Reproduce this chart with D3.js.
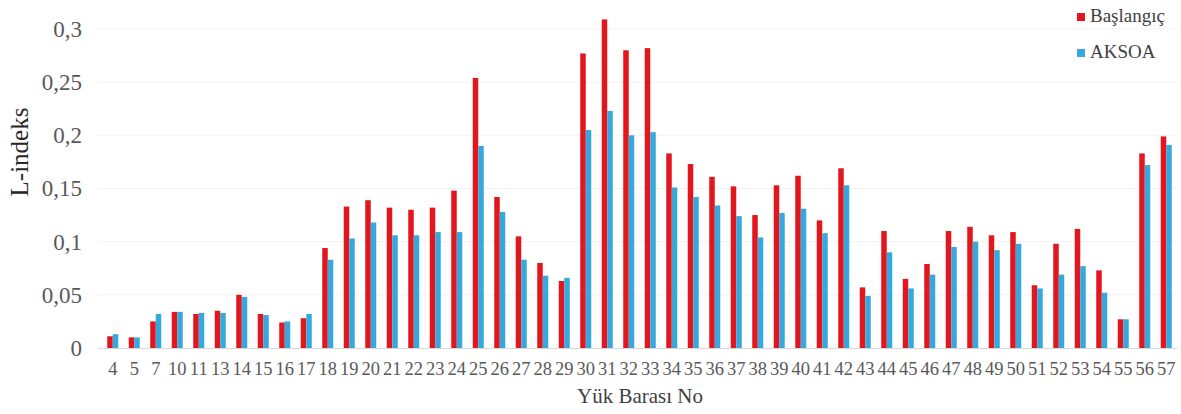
<!DOCTYPE html>
<html>
<head>
<meta charset="utf-8">
<script src="https://cdn.jsdelivr.net/npm/d3@7/dist/d3.min.js"></script>
<style>
  body { margin: 0; background: #fff; }
  svg text { font-family: 'Liberation Serif', 'DejaVu Serif', 'Times New Roman', Times, serif !important; }
</style>
</head>
<body>
<svg id="chart" width="1181" height="414"></svg>
<script>
// load bus numbers and L-index values
const buses = [4, 5, 7, 10, 11, 13, 14, 15, 16, 17, 18, 19, 20, 21, 22, 23, 24, 25, 26, 27,
    28, 29, 30, 31, 32, 33, 34, 35, 36, 37, 38, 39, 40, 41, 42, 43, 44, 45, 46, 47,
    48, 49, 50, 51, 52, 53, 54, 55, 56, 57];
const baslangic = [0.011, 0.010, 0.025, 0.034, 0.032, 0.035, 0.050, 0.032, 0.024, 0.028,
    0.094, 0.133, 0.139, 0.132, 0.130, 0.132, 0.148, 0.254, 0.142, 0.105,
    0.080, 0.063, 0.277, 0.309, 0.280, 0.282, 0.183, 0.173, 0.161, 0.152,
    0.125, 0.153, 0.162, 0.120, 0.169, 0.057, 0.110, 0.065, 0.079, 0.110,
    0.114, 0.106, 0.109, 0.059, 0.098, 0.112, 0.073, 0.027, 0.183, 0.199];
const aksoa = [0.013, 0.010, 0.032, 0.034, 0.033, 0.033, 0.048, 0.031, 0.025, 0.032,
    0.083, 0.103, 0.118, 0.106, 0.106, 0.109, 0.109, 0.190, 0.128, 0.083,
    0.068, 0.066, 0.205, 0.223, 0.200, 0.203, 0.151, 0.142, 0.134, 0.124,
    0.104, 0.127, 0.131, 0.108, 0.153, 0.049, 0.090, 0.056, 0.069, 0.095,
    0.100, 0.092, 0.098, 0.056, 0.069, 0.077, 0.052, 0.027, 0.172, 0.191];
const yTicks = [0, 0.05, 0.1, 0.15, 0.2, 0.25, 0.3];
const yTickLabels = ['0', '0,05', '0,1', '0,15', '0,2', '0,25', '0,3'];
const seriesNames = ['Başlangıç', 'AKSOA'];
const seriesColors = ['#e3151d', '#37a8dc'];

const svg = d3.select('#chart');
const margin = { left: 102, right: 4, top: 29, bottom: 66 };
const width = 1181, height = 414;

const x = d3.scaleBand()
    .domain(buses)
    .range([margin.left, width - margin.right])
    .paddingInner(0)
    .paddingOuter(0);

const y = d3.scaleLinear()
    .domain([0, 0.3])
    .range([348, 29]);

// gridlines
svg.append('g')
    .selectAll('line')
    .data(yTicks.slice(1))
    .join('line')
    .attr('x1', 98).attr('x2', 1177)
    .attr('y1', d => y(d)).attr('y2', d => y(d))
    .attr('stroke', '#f2f2f2')
    .attr('stroke-width', 1);

// y axis labels
const yAxis = d3.axisLeft(y)
    .tickValues(yTicks)
    .tickSize(0)
    .tickPadding(0)
    .tickFormat((d, i) => yTickLabels[i]);
const yg = svg.append('g')
    .attr('transform', 'translate(82,0)')
    .call(yAxis)
    .attr('font-family', null);
yg.select('.domain').remove();
yg.selectAll('text')
    .attr('font-size', 23)
    .attr('fill', '#595959');

// bars
const bw = 5.5;
const grp = svg.append('g');
[baslangic, aksoa].forEach(function (vals, si) {
    grp.selectAll('.bar' + si)
        .data(vals)
        .join('rect')
        .attr('class', 'bar' + si)
        .attr('x', (d, i) => x(buses[i]) + x.bandwidth() / 2 - bw + si * bw)
        .attr('y', d => y(d))
        .attr('width', bw)
        .attr('height', d => y(0) - y(d))
        .attr('fill', seriesColors[si]);
});

// zero line
svg.append('line')
    .attr('x1', 98).attr('x2', 1177)
    .attr('y1', y(0) + 0.5).attr('y2', y(0) + 0.5)
    .attr('stroke', '#d9d9d9')
    .attr('stroke-width', 1);

// x axis labels
const xAxis = d3.axisBottom(x).tickSize(0).tickPadding(0);
const xg = svg.append('g')
    .attr('transform', 'translate(0,' + 362 + ')')
    .call(xAxis)
    .attr('font-family', null);
xg.select('.domain').remove();
xg.selectAll('text')
    .attr('font-size', 18.5)
    .attr('fill', '#595959');

// axis titles
svg.append('text')
    .attr('x', 640).attr('y', 403)
    .attr('text-anchor', 'middle')
    .attr('font-size', 21)
    .attr('fill', '#404040')
    .text('Yük Barası No');

svg.append('text')
    .attr('transform', 'translate(28,152) rotate(-90)')
    .attr('text-anchor', 'middle')
    .attr('font-size', 25)
    .attr('fill', '#262626')
    .text('L-indeks');

// legend
const legend = svg.append('g');
seriesNames.forEach(function (name, i) {
    const ly = 22 + i * 36;
    legend.append('rect')
        .attr('x', 1077).attr('y', ly - 9)
        .attr('width', 8).attr('height', 8)
        .attr('fill', seriesColors[i]);
    legend.append('text')
        .attr('x', 1090).attr('y', ly)
        .attr('font-size', 19)
        .attr('fill', '#404040')
        .text(name);
});
</script>
</body>
</html>
